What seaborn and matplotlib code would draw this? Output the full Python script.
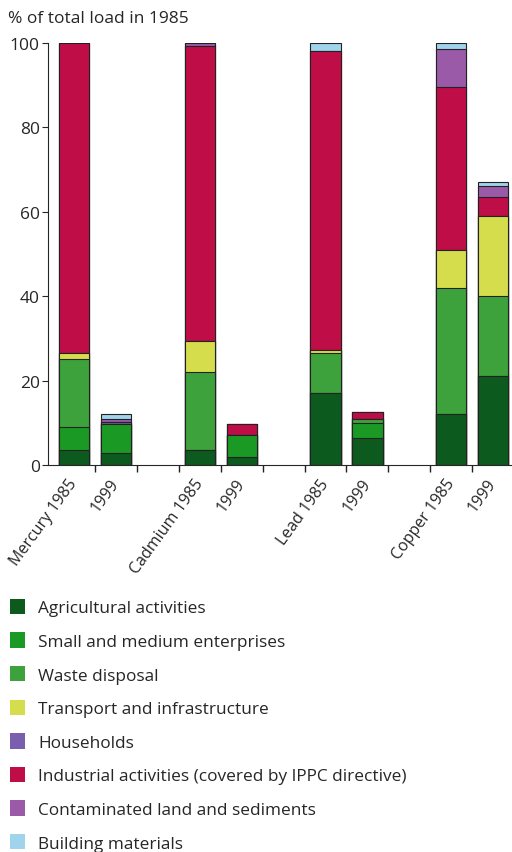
import numpy as np
import pandas as pd
import matplotlib
matplotlib.use('Agg')
import matplotlib.pyplot as plt
import seaborn as sns
from matplotlib.patches import Patch

# datos (% de la carga total en 1985)
etiquetas = ['Mercury 1985', '1999', 'Cadmium 1985', '1999',
             'Lead 1985', '1999', 'Copper 1985', '1999']
posiciones = [0, 1, 3, 4, 6, 7, 9, 10]

fuentes = ['Agricultural activities', 'Small and medium enterprises',
           'Waste disposal', 'Transport and infrastructure', 'Households',
           'Industrial activities (covered by IPPC directive)',
           'Contaminated land and sediments', 'Building materials']

agricultura = [3.5, 2.8, 3.5, 2.0, 17.0, 6.5, 12.0, 21.0]
pymes = [5.5, 7.0, 0.0, 5.0, 0.0, 3.5, 0.0, 0.0]
residuos = [16.0, 0.0, 18.5, 0.0, 9.5, 1.0, 30.0, 19.0]
transporte = [1.5, 0.0, 7.5, 0.0, 0.7, 0.0, 9.0, 19.0]
hogares = [0.0, 0.5, 0.0, 0.0, 0.0, 0.0, 0.0, 0.0]
industria = [73.5, 0.0, 69.7, 2.8, 70.8, 1.5, 38.5, 4.5]
contaminado = [0.0, 0.6, 0.8, 0.0, 0.0, 0.0, 9.0, 2.5]
construccion = [0.0, 1.1, 0.0, 0.0, 2.0, 0.0, 1.5, 1.0]

colores = ['#0c5a1e', '#1a9a24', '#3da23c', '#d6dd4c',
           '#7a5fae', '#bf0d48', '#9a5aa8', '#9fd4ec']

sns.set_style('ticks')
plt.rcParams['font.family'] = ['Open Sans', 'DejaVu Sans']

fig = plt.figure(figsize=(5.12, 8.53), dpi=100)
ax = fig.add_axes([0.094, 0.4537, 0.906, 0.4947])

capas = [agricultura, pymes, residuos, transporte, hogares,
         industria, contaminado, construccion]
acumulado = np.cumsum(np.array(capas), axis=0)

# barras apiladas: se dibuja del total hacia abajo
for i in reversed(range(len(capas))):
    df = pd.DataFrame({'pos': posiciones, 'valor': acumulado[i]})
    sns.barplot(data=df, x='pos', y='valor', native_scale=True,
                color=colores[i], saturation=1, width=0.72,
                edgecolor='#222222', linewidth=0.8, errorbar=None, ax=ax)

ax.set_xlim(-0.62, 10.45)
ax.set_ylim(0, 100)
ax.set_yticks([0, 20, 40, 60, 80, 100])
ax.set_xticks(posiciones)
ax.set_xticklabels(etiquetas, rotation=54, ha='right', va='center',
                   rotation_mode='anchor', fontsize=11.5)
ax.set_xticks(np.arange(0.5, 10, 1), minor=True)
ax.tick_params(axis='x', which='major', length=0, pad=11)
ax.tick_params(axis='x', which='minor', length=5, width=1, color='#222222')
ax.tick_params(axis='y', length=4, labelsize=12.5, pad=2)
ax.set_xlabel('')
ax.set_ylabel('')
sns.despine(ax=ax)

fig.text(0.016, 0.978, '% of total load in 1985', fontsize=12.5, va='center')

handles = [Patch(facecolor=c, edgecolor='none') for c in colores]
fig.legend(handles, fuentes, loc='upper left', bbox_to_anchor=(0.0195, 0.297),
           frameon=False, fontsize=12.4, handlelength=0.9, handleheight=1.0,
           handletextpad=0.75, labelspacing=0.93, borderaxespad=0, borderpad=0)

fig.savefig('out.png', dpi=100)
